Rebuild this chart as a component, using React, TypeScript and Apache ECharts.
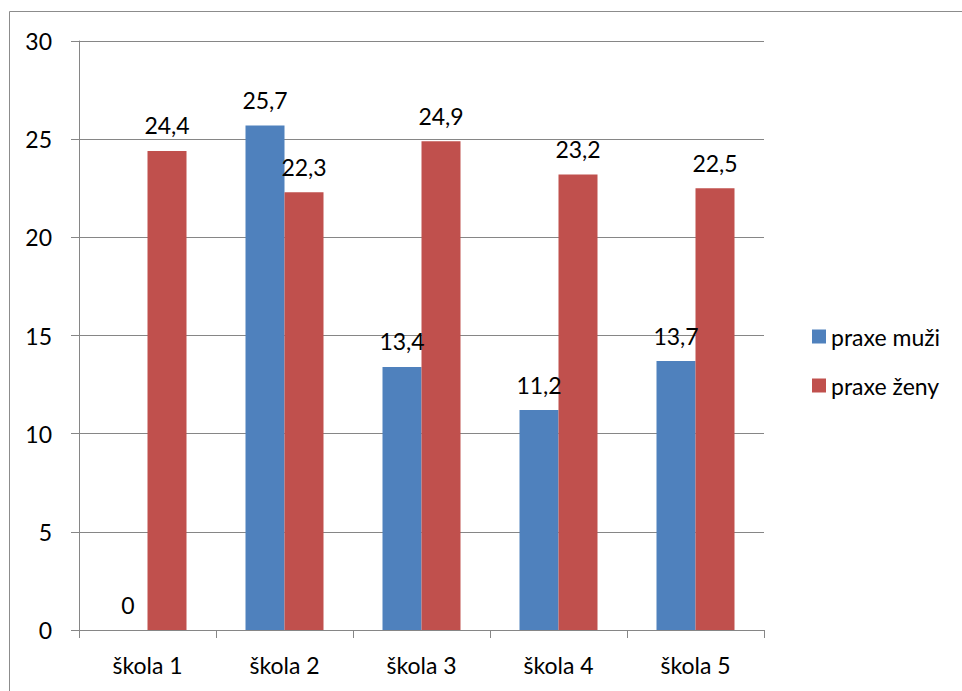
import React, { useEffect, useRef } from "react";
import * as echarts from "echarts";

const categories = ["škola 1", "škola 2", "škola 3", "škola 4", "škola 5"];
const muzi = [0, 25.7, 13.4, 11.2, 13.7];
const zeny = [24.4, 22.3, 24.9, 23.2, 22.5];
const seriesNames = ["praxe muži", "praxe ženy"];

const FONT = "Lato, 'Open Sans', sans-serif";
const FS = 23;

export default function App() {
  const ref = useRef<HTMLDivElement>(null);
  useEffect(() => {
    const chart = echarts.init(ref.current!, null, { renderer: "svg" });
    const fmt = (p: any) => String(p.value).replace(".", ",");
    chart.setOption({
      animation: false,
      backgroundColor: "#ffffff",
      textStyle: { fontFamily: FONT },
      graphic: [
        {
          type: "rect",
          shape: { x: 9.5, y: 11.5, width: 1000, height: 1000 },
          style: { fill: "none", stroke: "#8c8c8c", lineWidth: 1 },
          silent: true,
        },
      ],
      grid: { left: 79, top: 41, right: 198, bottom: 61, containLabel: false },
      legend: {
        orient: "vertical",
        left: 807,
        top: 320,
        itemWidth: 14,
        itemHeight: 14,
        itemGap: 26,
        itemStyle: { borderWidth: 0 },
        icon: "rect",
        textStyle: { fontSize: FS, color: "#000", fontFamily: FONT, padding: [0, 0, 0, 0] },
        data: seriesNames,
      },
      xAxis: {
        type: "category",
        data: categories,
        axisLine: { lineStyle: { color: "#868686" } },
        axisTick: { show: true, length: 8, lineStyle: { color: "#868686" } },
        axisLabel: { fontSize: FS, color: "#000", margin: 23, fontFamily: FONT },
      },
      yAxis: {
        type: "value",
        min: 0,
        max: 30,
        interval: 5,
        axisLine: { show: true, lineStyle: { color: "#868686" } },
        axisTick: { show: true, length: 8, lineStyle: { color: "#868686" } },
        axisLabel: { fontSize: FS, color: "#000", margin: 27, fontFamily: FONT },
        splitLine: { lineStyle: { color: "#868686" } },
      },
      series: [
        {
          name: seriesNames[0],
          type: "bar",
          data: muzi,
          barWidth: 39,
          barGap: "0%",
          itemStyle: { color: "#4F81BD" },
          label: { show: true, position: "top", distance: 14, fontSize: FS, color: "#000", formatter: fmt, fontFamily: FONT },
        },
        {
          name: seriesNames[1],
          type: "bar",
          data: zeny,
          barWidth: 39,
          barGap: "0%",
          itemStyle: { color: "#C0504D" },
          label: { show: true, position: "top", distance: 14, fontSize: FS, color: "#000", formatter: fmt, fontFamily: FONT },
        },
      ],
    });
    return () => chart.dispose();
  }, []);
  return (
    <div
      ref={ref}
      style={{ position: "fixed", left: 0, top: 0, width: 962, height: 691 }}
    />
  );
}
